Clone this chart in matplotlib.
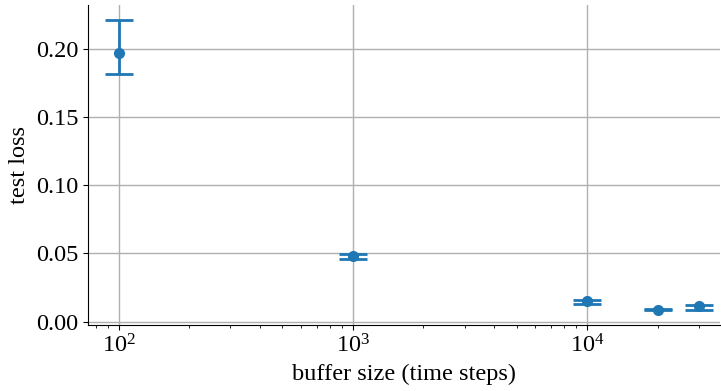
import matplotlib
matplotlib.use("Agg")
import matplotlib.pyplot as plt
import numpy as np

# buffer sizes and test loss (mean with lower/upper error)
buffer_sizes = [100, 1000, 10000, 20000, 30000]
loss_mean = [0.1965, 0.0478, 0.0150, 0.0088, 0.0114]
loss_lower = [0.1815, 0.0456, 0.0128, 0.0083, 0.0083]
loss_upper = [0.2212, 0.0493, 0.0160, 0.0092, 0.0126]

plt.rcParams["font.family"] = ["Liberation Serif", "DejaVu Serif"]
plt.rcParams["font.size"] = 17.5

mean = np.array(loss_mean)
yerr = np.vstack([mean - np.array(loss_lower), np.array(loss_upper) - mean])

fig, ax = plt.subplots(figsize=(7.21, 3.91), dpi=100)
ax.errorbar(buffer_sizes, mean, yerr=yerr, fmt="o", color="#1f77b4",
            markersize=7, elinewidth=2, capsize=10, capthick=2)
ax.set_xscale("log")
ax.set_xlim(74, 37000)
ax.grid(True, which="major", color="#b0b0b0", linewidth=1)
ax.set_axisbelow(True)
ax.spines["top"].set_visible(False)
ax.spines["right"].set_visible(False)
ax.set_yticks([0.0, 0.05, 0.10, 0.15, 0.20])
ax.set_xlabel("buffer size (time steps)")
ax.set_ylabel("test loss")

fig.subplots_adjust(left=0.122, right=0.999, bottom=0.169, top=0.987)
plt.savefig("out.png", dpi=100)
plt.close(fig)
